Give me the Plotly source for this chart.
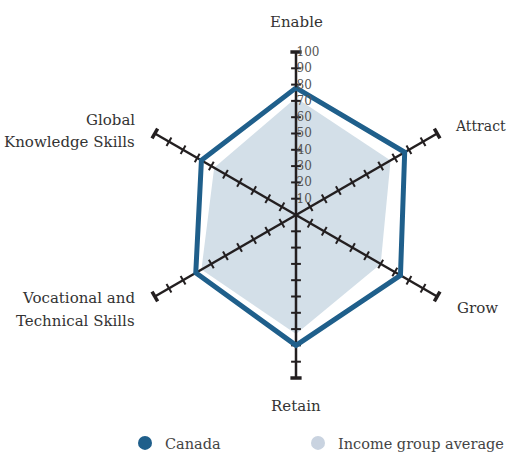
import plotly.graph_objects as go

W, H = 509, 453

categories = ["Enable", "Attract", "Grow", "Retain", "Vocational and Technical Skills", "Global Knowledge Skills"]
canada = [78, 77, 74, 80, 71, 67]
income_avg = [72, 67, 60, 73, 67, 58]
tick_values = [10, 20, 30, 40, 50, 60, 70, 80, 90, 100]
tick_labels = ["10", "20", "30", "40", "50", "60", "70", "80", "90", "100"]

BLUE = "#1f5f8b"
FILL = "#d3dfe8"
AXIS = "#231f20"
FONT = "DejaVu Serif"

fig = go.Figure()

# income group average (filled)
fig.add_trace(go.Scatterpolar(
    r=income_avg + income_avg[:1], theta=categories + categories[:1],
    mode="lines", fill="toself", fillcolor=FILL, line=dict(width=0, color=FILL),
    showlegend=False, hoverinfo="skip"))

# spokes with crossing ticks
for i, cat in enumerate(categories):
    fig.add_trace(go.Scatterpolar(
        r=[0, 100], theta=[cat, cat], mode="lines",
        line=dict(color=AXIS, width=2.5), showlegend=False, hoverinfo="skip"))
    fig.add_trace(go.Scatterpolar(
        r=tick_values[:-1], theta=[cat] * (len(tick_values) - 1), mode="markers",
        marker=dict(symbol="line-ew", size=7, angle=i * 60, color=AXIS,
                    line=dict(color=AXIS, width=2)),
        showlegend=False, hoverinfo="skip"))
    fig.add_trace(go.Scatterpolar(
        r=tick_values[-1:], theta=[cat], mode="markers",
        marker=dict(symbol="line-ew", size=8, angle=i * 60, color=AXIS,
                    line=dict(color=AXIS, width=3.5)),
        showlegend=False, hoverinfo="skip"))

# Canada outline
fig.add_trace(go.Scatterpolar(
    r=canada + canada[:1], theta=categories + categories[:1],
    mode="lines", line=dict(color=BLUE, width=5), showlegend=False, hoverinfo="skip"))

# legend entries
fig.add_trace(go.Scatterpolar(r=[None], theta=[categories[0]], mode="markers", name="Canada",
                              marker=dict(color=BLUE, size=14), legend="legend"))
fig.add_trace(go.Scatterpolar(r=[None], theta=[categories[0]], mode="markers", name="Income group average",
                              marker=dict(color="#c9d3e0", size=14), legend="legend2"))

cx, cy, R = 296, 215, 163
leg_font = dict(family=FONT, size=14.5, color="#444444")
fig.update_layout(
    width=W, height=H,
    margin=dict(l=0, r=0, t=0, b=0, autoexpand=False),
    paper_bgcolor="white",
    font=dict(family=FONT, size=15, color="#333333"),
    polar=dict(
        domain=dict(x=[(cx - R) / W, (cx + R) / W], y=[1 - (cy + R) / H, 1 - (cy - R) / H]),
        bgcolor="rgba(0,0,0,0)",
        angularaxis=dict(rotation=90, direction="clockwise", categoryorder="array",
                         categoryarray=categories, showgrid=False, showline=False,
                         showticklabels=False, ticks=""),
        radialaxis=dict(range=[0, 100], angle=90, tickangle=90, tickvals=tick_values,
                        ticktext=tick_labels, showgrid=False, showline=False, ticks="",
                        side="clockwise",
                        tickfont=dict(family=FONT, size=12, color="#555555")),
    ),
    showlegend=True,
    legend=dict(orientation="h", x=125 / W, xanchor="left", y=1 - 443 / H, yanchor="middle",
                font=leg_font, itemsizing="trace", bgcolor="rgba(0,0,0,0)"),
    legend2=dict(orientation="h", x=298 / W, xanchor="left", y=1 - 443 / H, yanchor="middle",
                 font=leg_font, itemsizing="trace", bgcolor="rgba(0,0,0,0)"),
)

def ann(text, x, y, xanchor, size=15):
    fig.add_annotation(text=text, x=x / W, y=1 - y / H, xref="paper", yref="paper",
                       xanchor=xanchor, yanchor="middle", showarrow=False,
                       font=dict(family=FONT, size=size, color="#333333"))

ann("Enable", 296, 22, "center")
ann("Attract", 453, 126, "left", 14)
ann("Grow", 455, 308, "left")
ann("Retain", 296, 406, "center")
ann("Vocational and", 137, 298, "right")
ann("Technical Skills", 137, 321, "right")
ann("Global", 137, 120, "right")
ann("Knowledge Skills", 137, 142, "right")

fig.write_html(
    "out.html",
    config={"displayModeBar": False},
    post_script=("document.documentElement.style.margin='0';document.documentElement.style.padding='0';"
                 "document.documentElement.style.overflow='hidden';"
                 "document.body.style.margin='0';document.body.style.padding='0';"
                 "document.body.style.overflow='hidden';"),
)
